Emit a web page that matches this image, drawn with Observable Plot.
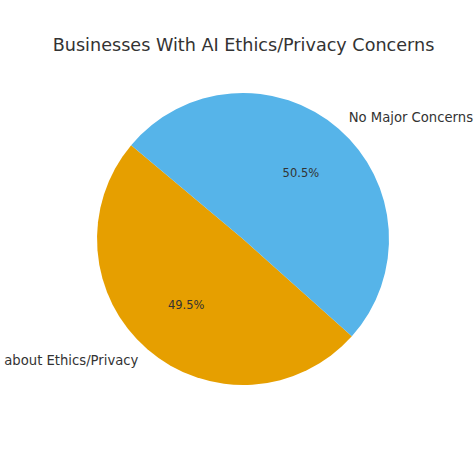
<!DOCTYPE html>
<html>
<head>
<meta charset="utf-8">
<script src="https://cdn.jsdelivr.net/npm/d3@7"></script>
<script src="https://cdn.jsdelivr.net/npm/@observablehq/plot@0.6"></script>
<style>
  html, body { margin: 0; padding: 0; background: #fff; }
  svg { display: block; }
</style>
</head>
<body>
<div id="chart"></div>
<script>
const title = "Businesses With AI Ethics/Privacy Concerns";
const categories = ["Concerned about Ethics/Privacy", "No Major Concerns"];
const shares = [49.5, 50.5];
const colors = ["#E69F00", "#56B4E9"];
const startAngle = 140; // degrees, counter-clockwise from 3 o'clock

const W = 474, H = 474, CX = 243, CY = 239, R = 146;
const total = d3.sum(shares);
let acc = 0;
const slices = categories.map((c, i) => {
  const a0 = startAngle + acc / total * 360;
  acc += shares[i];
  const a1 = startAngle + acc / total * 360;
  const mid = (a0 + a1) / 2 * Math.PI / 180;
  return {category: c, share: shares[i], color: colors[i], a0, a1,
    lx: 1.1 * Math.cos(mid), ly: 1.1 * Math.sin(mid),
    px: 0.6 * Math.cos(mid), py: 0.6 * Math.sin(mid),
    right: Math.cos(mid) >= 0};
});

function pieMark(index, scales, values, dimensions, context) {
  const g = d3.create("svg:g");
  const cx = scales.x(0), cy = scales.y(0);
  const r = scales.x(1) - scales.x(0);
  const arc = d3.arc().innerRadius(0).outerRadius(r);
  for (const s of slices) {
    g.append("path")
      .attr("transform", `translate(${cx},${cy})`)
      .attr("fill", s.color)
      .attr("d", arc({startAngle: (90 - s.a0) * Math.PI / 180, endAngle: (90 - s.a1) * Math.PI / 180}));
  }
  return g.node();
}

const chart = Plot.plot({
  width: W, height: H,
  margin: 0,
  style: {fontFamily: "DejaVu Sans", background: "#fff"},
  x: {domain: [-CX / R, (W - CX) / R], range: [0, W], axis: null},
  y: {domain: [-(H - CY) / R, CY / R], range: [H, 0], axis: null},
  marks: [
    pieMark,
    Plot.text(slices.filter(d => d.right), {x: "lx", y: "ly", text: "category", textAnchor: "start", fontSize: 13.2, fill: "#333"}),
    Plot.text(slices.filter(d => !d.right), {x: "lx", y: "ly", text: "category", textAnchor: "end", fontSize: 13.2, fill: "#333"}),
    Plot.text(slices, {x: "px", y: "py", text: d => d.share.toFixed(1) + "%", fontSize: 11.5, fill: "#333"}),
    Plot.text([title], {x: 0, y: (CY - 45) / R, text: d => d, fontSize: 17.6, fill: "#333"})
  ]
});
document.getElementById("chart").appendChild(chart);
</script>
</body>
</html>
